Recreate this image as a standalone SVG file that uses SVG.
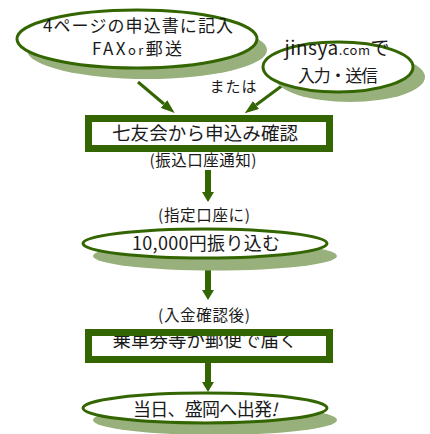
<svg xmlns="http://www.w3.org/2000/svg" width="430" height="434" viewBox="0 0 430 434">
<style>
.t{font-family:"Noto Sans CJK JP","Noto Sans",sans-serif;fill:#1a1a1a}
.shadow{fill:#98b07c}
.oval{fill:#fff;stroke:#336600;stroke-width:3}
.box{fill:none;stroke:#336600;stroke-width:7}
.thin{stroke:#336600;stroke-width:3;fill:none}
.thick{stroke:#336600;stroke-width:6;fill:none}
</style>
<defs>
<marker id="hs" markerUnits="userSpaceOnUse" markerWidth="14" markerHeight="10" refX="0" refY="5" orient="auto">
<path d="M0,0 L14,5 L0,10 z" fill="#336600"/>
</marker>
<marker id="hb" markerUnits="userSpaceOnUse" markerWidth="10" markerHeight="12" refX="0" refY="6" orient="auto">
<path d="M0,0 L10,6 L0,12 z" fill="#336600"/>
</marker>
</defs>
<rect width="430" height="434" fill="#fff"/>
<g id="connectors">
<line class="thin" x1="138" y1="82" x2="164" y2="104" marker-end="url(#hs)"/>
<line class="thin" x1="283" y1="85" x2="256" y2="105" marker-end="url(#hs)"/>
<line class="thick" x1="208" y1="170" x2="208" y2="192" marker-end="url(#hb)"/>
<line class="thick" x1="208" y1="262" x2="208" y2="290" marker-end="url(#hb)"/>
<line class="thick" x1="208" y1="363" x2="208" y2="382" marker-end="url(#hb)"/>
</g>
<g id="node-paper">
<ellipse class="shadow" cx="147" cy="50" rx="120" ry="29"/>
<ellipse class="oval" cx="137" cy="39" rx="120" ry="29"/>
<text class="t" x="138" y="32" font-size="17" text-anchor="middle" textLength="190" lengthAdjust="spacing">4ページの申込書に記入</text>
<text class="t" x="137" y="55" font-size="17" text-anchor="middle" textLength="90" lengthAdjust="spacing">FAX<tspan font-size="13">or</tspan>郵送</text>
</g>
<g id="node-web">
<ellipse class="shadow" cx="350" cy="77" rx="75" ry="25"/>
<ellipse class="oval" cx="338" cy="67" rx="75" ry="25"/>
<text class="t" x="337" y="55" font-size="19" text-anchor="middle" textLength="105" lengthAdjust="spacing">jinsya<tspan font-size="13">.com</tspan>で</text>
<text class="t" x="338" y="82" font-size="17" text-anchor="middle" textLength="80" lengthAdjust="spacing">入力・送信</text>
</g>
<g id="label-or">
<text class="t" x="233" y="92" font-size="15" text-anchor="middle" textLength="47" lengthAdjust="spacing">または</text>
</g>
<g id="node-confirm">
<rect x="88.5" y="118.5" width="241" height="30" fill="#fff"/>
<text class="t" x="205" y="140" font-size="18.5" text-anchor="middle" textLength="186" lengthAdjust="spacing">七友会から申込み確認</text>
<rect class="box" x="88.5" y="118.5" width="241" height="30"/>
<text class="t" x="203" y="166" font-size="15.5" text-anchor="middle" textLength="107" lengthAdjust="spacing">(振込口座通知)</text>
</g>
<g id="node-pay">
<text class="t" x="204" y="221" font-size="15.5" text-anchor="middle" textLength="92" lengthAdjust="spacing">(指定口座に)</text>
<ellipse class="shadow" cx="215" cy="256" rx="122" ry="14.5"/>
<ellipse class="oval" cx="205" cy="243.5" rx="122" ry="14.5"/>
<text class="t" x="206" y="250" font-size="18" text-anchor="middle" textLength="148" lengthAdjust="spacing">10,000円振り込む</text>
</g>
<g id="node-ticket">
<text class="t" x="204" y="321" font-size="15.5" text-anchor="middle" textLength="92" lengthAdjust="spacing">(入金確認後)</text>
<rect x="88.5" y="332.5" width="241" height="27" fill="#fff"/>
<text class="t" x="205" y="347" font-size="18.5" text-anchor="middle" textLength="185" lengthAdjust="spacing">乗車券等が郵便で届く</text>
<rect class="box" x="88.5" y="332.5" width="241" height="27"/>
</g>
<g id="node-depart">
<ellipse class="shadow" cx="215" cy="420" rx="122" ry="15"/>
<ellipse class="oval" cx="205" cy="408" rx="122" ry="15"/>
<text class="t" x="205" y="416" font-size="18" text-anchor="middle" textLength="144" lengthAdjust="spacing">当日、盛岡へ出発<tspan font-style="italic">!</tspan></text>
</g>
</svg>
